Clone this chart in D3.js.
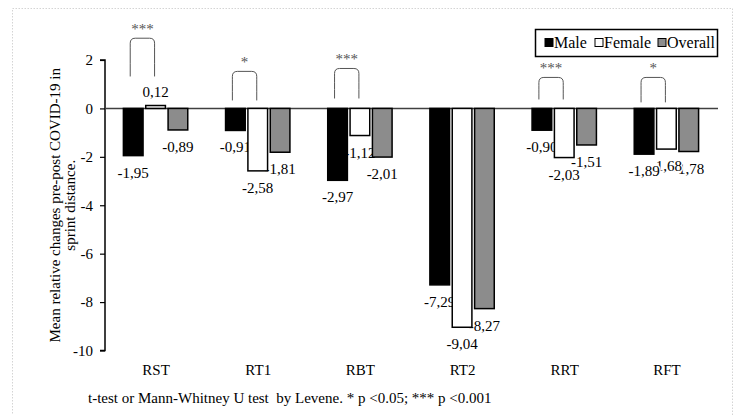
<!DOCTYPE html>
<html>
<head>
<meta charset="utf-8">
<script src="https://cdn.jsdelivr.net/npm/d3@7"></script>
<style>
  body { margin: 0; background: #fff; }
  svg text { font-family: "Liberation Serif", "Times New Roman", serif; }
</style>
</head>
<body>
<div class="chart"></div>
<script>
// values
const categories = ["RST", "RT1", "RBT", "RT2", "RRT", "RFT"];
const series = ["Male", "Female", "Overall"];
const male = [-1.95, -0.91, -2.97, -7.29, -0.90, -1.89];
const female = [0.12, -2.58, -1.12, -9.04, -2.03, -1.68];
const overall = [-0.89, -1.81, -2.01, -8.27, -1.51, -1.78];
const yTicks = [2, 0, -2, -4, -6, -8, -10];
// significance brackets (top / foot in axis units)
const sigMarks = ["***", "*", "***", "", "***", "*"];
const sigTop = [2.9, 1.53, 1.65, null, 1.28, 1.28];
const sigFoot = [1.32, 0.33, 0.41, null, 0.37, 0.25];

const colors = {Male: "#000", Female: "#fff", Overall: "#8c8c8c"};
const values = {Male: male, Female: female, Overall: overall};

let width = 740, height = 415;
let svg = d3.select(".chart").append("svg")
    .attr("width", width)
    .attr("height", height)
    .attr("font-family", "Liberation Serif");

// chart area border
svg.append("rect")
    .attr("x", 12.5).attr("y", 8.5)
    .attr("width", 720).attr("height", 420)
    .attr("fill", "none")
    .attr("stroke", "#d4d4d4")
    .attr("stroke-dasharray", "1.5,1.5");

let xScale = d3.scaleBand()
    .domain(categories)
    .range([105, 718]);

let bw = xScale.bandwidth();
let x1 = d3.scaleBand()
    .domain(series)
    .range([bw * 0.18, bw * 0.81])
    .paddingInner(0.12);

let yScale = d3.scaleLinear()
    .domain([-10, 2])
    .range([350.5, 60]);

let yAxis = d3.axisLeft(yScale)
    .tickValues(yTicks)
    .tickSize(5)
    .tickFormat(d => String(d));

let gy = svg.append("g")
    .attr("transform", "translate(105,0)")
    .call(yAxis)
    .attr("font-family", "Liberation Serif");
gy.select(".domain").attr("stroke", "#000").attr("stroke-width", 1.5)
    .attr("d", `M-5,${yScale(2)}H0V${yScale(-10)}H-5`);
gy.selectAll(".tick line").attr("stroke", "#000").attr("stroke-width", 1.2);
gy.selectAll(".tick text")
    .attr("x", -12)
    .attr("font-size", 15)
    .attr("fill", "#000");

// axis title
let title = svg.append("text")
    .attr("transform", `translate(55,${(yScale(2) + yScale(-10)) / 2}) rotate(-90)`)
    .attr("text-anchor", "middle")
    .attr("font-size", 15)
    .attr("fill", "#000");
title.append("tspan").attr("x", 0).attr("dy", "0.35em")
    .text("Mean relative changes pre-post COVID-19 in");
title.append("tspan").attr("x", 0).attr("dy", "0.95em")
    .text("sprint distance.");

// category labels
svg.selectAll(".cat")
    .data(categories)
    .enter()
    .append("text")
    .attr("class", "cat")
    .attr("x", d => xScale(d) + bw / 2)
    .attr("y", 375)
    .attr("text-anchor", "middle")
    .attr("font-size", 15)
    .text(d => d);

let rows = [];
series.forEach(s => {
    categories.forEach((c, i) => rows.push({s: s, c: c, v: values[s][i]}));
});

// data labels first, bars are painted on top of them like in the figure
let fmt = v => v.toFixed(2).replace(".", ",");
["Overall", "Female", "Male"].forEach(s => {
    svg.selectAll(".lbl-" + s)
        .data(rows.filter(r => r.s === s))
        .enter()
        .append("text")
        .attr("x", d => xScale(d.c) + x1(d.s) + x1.bandwidth() / 2)
        .attr("y", d => d.v < 0 ? yScale(d.v) + 22 : yScale(d.v) - 9)
        .attr("text-anchor", "middle")
        .attr("font-size", 15)
        .attr("stroke", "#fff")
        .attr("stroke-width", 3)
        .attr("paint-order", "stroke")
        .text(d => fmt(d.v));
});

// zero line
svg.append("line")
    .attr("x1", 105).attr("x2", 718)
    .attr("y1", yScale(0)).attr("y2", yScale(0))
    .attr("stroke", "#404040")
    .attr("stroke-width", 1.5);

svg.selectAll(".bar")
    .data(rows)
    .enter()
    .append("rect")
    .attr("class", "bar")
    .attr("x", d => xScale(d.c) + x1(d.s))
    .attr("width", x1.bandwidth())
    .attr("y", d => yScale(Math.max(0, d.v)))
    .attr("height", d => Math.abs(yScale(d.v) - yScale(0)))
    .attr("fill", d => colors[d.s])
    .attr("stroke", "#000")
    .attr("stroke-width", 1.5);

// significance brackets
categories.forEach((c, i) => {
    if (!sigMarks[i]) return;
    let xa = xScale(c) + x1("Male") + x1.bandwidth() / 2 - 3;
    let xb = xScale(c) + x1("Female") + x1.bandwidth() / 2 - 1;
    let yt = yScale(sigTop[i]), yf = yScale(sigFoot[i]);
    let r = 5;
    svg.append("path")
        .attr("d", `M${xa},${yf} Q${xa},${yt + r * 2} ${xa},${yt + r} Q${xa},${yt} ${xa + r},${yt} ` +
            `L${xb - r},${yt} Q${xb},${yt} ${xb},${yt + r} Q${xb},${yt + r * 2} ${xb},${yf}`)
        .attr("fill", "none")
        .attr("stroke", "#555")
        .attr("stroke-width", 1);
    svg.append("text")
        .attr("x", (xa + xb) / 2)
        .attr("y", yt - 4)
        .attr("text-anchor", "middle")
        .attr("font-size", 15)
        .attr("fill", "#555")
        .text(sigMarks[i]);
});

// legend
let legend = svg.append("g");
legend.append("rect")
    .attr("x", 535.5).attr("y", 29.5)
    .attr("width", 182).attr("height", 27)
    .attr("fill", "#fff")
    .attr("stroke", "#000")
    .attr("stroke-width", 1.5);
let legX = [545, 595, 658];
series.forEach((s, i) => {
    legend.append("rect")
        .attr("x", legX[i]).attr("y", 38.5)
        .attr("width", 8).attr("height", 8)
        .attr("fill", colors[s])
        .attr("stroke", "#000")
        .attr("stroke-width", 1);
    legend.append("text")
        .attr("x", legX[i] + 9)
        .attr("y", 48)
        .attr("font-size", 16)
        .text(s);
});

// footnote
svg.append("text")
    .attr("x", 88)
    .attr("y", 403)
    .attr("font-size", 15)
    .attr("xml:space", "preserve")
    .text("t-test or Mann-Whitney U test  by Levene. * p <0.05; *** p <0.001");
</script>
</body>
</html>
